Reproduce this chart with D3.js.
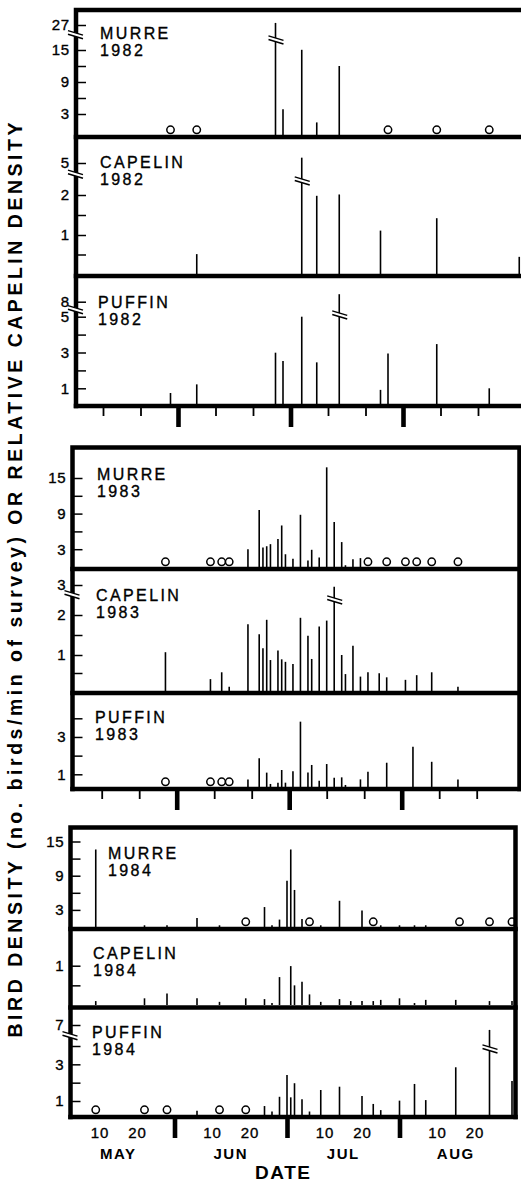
<!DOCTYPE html>
<html>
<head>
<meta charset="utf-8">
<script src="https://cdn.jsdelivr.net/npm/d3@7"></script>
<style>
  html, body { margin: 0; padding: 0; background: #fff; }
  svg { display: block; }
  text { font-family: "Liberation Sans", Arial, Helvetica, sans-serif; fill: #000; }
</style>
</head>
<body>
<svg id="chart" width="521" height="1183"></svg>
<script>
// ---- Survey dates (MM-DD) and densities; null = not shown, 0 = zero count (open circle for birds)
const dates1982   = ["05-28","06-05","06-26","06-28","07-03","07-07","07-13","07-24","07-26","08-09","08-23","08-31"];
const murre1982   = [0, 0, 28, 3.9, 15.1, 1.8, 12, null, 0, 0, 0, null];
const capelin1982 = [null, 0.51, null, null, 5.5, 1.98, 2.05, 1.11, null, 1.42, null, 0.44];
const puffin1982  = [0.7, 1.22, 2.99, 2.52, 5, 2.45, 9.5, 0.9, 2.95, 3.47, 1.0, null];

const dates1983   = ["05-27","06-09","06-12","06-14","06-19","06-22","06-23","06-24","06-25","06-27",
                     "06-28","06-29","07-01","07-03","07-05","07-06","07-08","07-10","07-12","07-14",
                     "07-15","07-17","07-19","07-21","07-24","07-26","08-01","08-03","08-04","08-08","08-15"];
const murre1983   = [0, 0, 0, 0, 3, 9.6, 3.3, 3.5, 3.85, 4.7,
                     7, 2.15, 1.4, 8.8, 1.1, 2.9, 1.6, 16.8, 7.6, 4.2,
                     0.3, 1.3, 1.5, 0, null, 0, 0, null, 0, 0, 0];
const capelin1983 = [1.07, 0.33, 0.52, 0.12, 1.77, 1.52, 1.17, 1.88, 0.86, 1.11,
                     0.88, 0.81, 0.75, 1.93, 1.48, 0.89, 1.71, 1.86, 2.94, 1.0,
                     0.47, 1.23, 0.4, 0.52, 0.49, 0.38, 0.31, null, 0.44, 0.52, 0.12];
const puffin1983  = [0, 0, 0, 0, 0.6, 1.86, null, 1.09, 0.24, 0.34,
                     1.23, 0.34, 1.16, 3.82, 1.09, 1.5, 0.5, 1.55, 0.73, 0.76,
                     0.16, null, 0.6, 1.14, null, 1.62, null, 2.48, null, 1.67, 0.6];

const dates1984   = ["05-09","05-22","05-28","06-06","06-12","06-19","06-24","06-26","06-28","06-30",
                     "07-01","07-02","07-04","07-06","07-09","07-14","07-17","07-20","07-23","07-25",
                     "07-30","08-04","08-07","08-15","08-16","08-24","08-30"];
const murre1984   = [13.6, 0.3, 0.3, 1.6, 0.3, 0, 3.5, 0.3, 1.3, 8.1,
                     13.6, 6.5, 1.4, 0, 0.3, 4.6, null, 2.9, 0, 0.3,
                     0.3, 0.3, 0.3, null, 0, 0, 0];
const capelin1984 = [0.1, 0.17, 0.29, 0.17, 0.08, 0.17, 0.15, 0.05, 0.71, null,
                     0.99, 0.5, 0.59, 0.27, 0.08, 0.15, 0.1, 0.1, 0.1, 0.13,
                     0.17, 0.05, 0.13, 0.13, null, 0.1, 0.1];
const puffin1984  = [0, 0, 0, 0.3, 0, 0, 0.64, 0.25, 1.23, 2.42,
                     1.2, 1.97, 1.09, 0.25, 1.6, 1.78, null, 1.27, 0.79, 0.35,
                     1.02, 1.93, 1.05, 2.84, null, 6.3, 2.09];

// ---- Axis labels
const minorDays   = [10, 20, 40, 50, 70, 80, 100, 110];
const monthEdges  = [30, 60, 90];
const monthNames  = ["MAY", "JUN", "JUL", "AUG"];
const yTitle      = "BIRD DENSITY (no. birds/min of survey) OR RELATIVE CAPELIN DENSITY";

// season day: every month counted as 30 days, May 0 = origin
const seasonDay = s => { const [m, d] = s.split("-").map(Number); return (m - 5) * 30 + d; };

const svg = d3.select("#chart");
const FRAME_W = 4.5;

const groups = [
  { dates: dates1982, top: 10, left: 76, right: 524, x0: 65.5, minor: true, axisLabels: false,
    panels: [
      { name: "MURRE",   year: "1982", values: murre1982,   bird: true,  bottom: 137,
        domain: [0, 3, 15, 27], range: [135, 114, 50, 25], ticks: [3, 6, 9, 12, 15, 27], labels: [3, 9, 15, 27],
        breakAbove: 20, axisBreak: 33, barBreak: 38, lx: 100, ly: 39 },
      { name: "CAPELIN", year: "1982", values: capelin1982, bird: false, bottom: 276,
        domain: [0, 1, 2, 5], range: [274, 235, 195, 163], ticks: [0.5, 1, 1.5, 2, 5], labels: [1, 2, 5],
        breakAbove: 3, axisBreak: 172.5, barBreak: 179, lx: 100, ly: 168 },
      { name: "PUFFIN",  year: "1982", values: puffin1982,  bird: true,  bottom: 406,
        domain: [0, 1, 5, 8], range: [404, 388.3, 316.7, 301.7], ticks: [1, 2, 3, 4, 5, 8], labels: [1, 3, 5, 8],
        breakAbove: 6, axisBreak: 308, barBreak: 313, lx: 98, ly: 308 }
    ] },
  { dates: dates1983, top: 447.5, left: 72.5, right: 519.5, x0: 64.2, minor: true, axisLabels: false,
    panels: [
      { name: "MURRE",   year: "1983", values: murre1983,   bird: true,  bottom: 569,
        domain: [0, 15], range: [567, 478], ticks: [3, 6, 9, 12, 15], labels: [3, 9, 15], lx: 97, ly: 480 },
      { name: "CAPELIN", year: "1983", values: capelin1983, bird: false, bottom: 693,
        domain: [0, 1, 2, 3], range: [691, 655, 615, 585], ticks: [0.5, 1, 1.5, 2, 3], labels: [1, 2, 3],
        breakAbove: 2.5, axisBreak: 593, barBreak: 598, lx: 96, ly: 601 },
      { name: "PUFFIN",  year: "1983", values: puffin1983,  bird: true,  bottom: 789,
        domain: [0, 1, 4], range: [787, 774.3, 718.3], ticks: [1, 2, 3, 4], labels: [1, 3], lx: 95, ly: 723 }
    ] },
  { dates: dates1984, top: 827.5, left: 70.5, right: 515.5, x0: 62, minor: false, axisLabels: true,
    panels: [
      { name: "MURRE",   year: "1984", values: murre1984,   bird: true,  bottom: 929,
        domain: [0, 15], range: [927, 841.5], ticks: [3, 6, 9, 12, 15], labels: [3, 9, 15], lx: 108, ly: 859 },
      { name: "CAPELIN", year: "1984", values: capelin1984, bird: false, bottom: 1007.5,
        domain: [0, 1], range: [1005, 965.7], ticks: [0.5, 1], labels: [1], lx: 93, ly: 959 },
      { name: "PUFFIN",  year: "1984", values: puffin1984,  bird: true,  bottom: 1117,
        domain: [0, 1, 4, 7], range: [1115, 1101, 1046, 1025], ticks: [1, 2, 3, 4, 7], labels: [1, 3, 7],
        breakAbove: 5, axisBreak: 1034, barBreak: 1047, lx: 92, ly: 1038 }
    ] }
];

// two slanted strokes with a white gap between them, used for scale breaks
function breakMark(sel, cx, cy, x1, x2) {
  const s = 0.3, gap = 3.6;
  const yA = x => cy + (x - cx) * s;
  sel.append("path")
    .attr("d", `M${x1},${yA(x1)}L${x2},${yA(x2)}L${x2},${yA(x2) + gap}L${x1},${yA(x1) + gap}Z`)
    .attr("fill", "#fff");
  [0, gap].forEach(o => sel.append("line")
    .attr("x1", x1).attr("y1", yA(x1) + o).attr("x2", x2).attr("y2", yA(x2) + o)
    .attr("stroke", "#000").attr("stroke-width", 1.5));
}

groups.forEach(g => {
  const G = svg.append("g");
  const x = d3.scaleLinear().domain([0, 120]).range([g.x0, g.x0 + 450]);
  const bottom = g.panels[g.panels.length - 1].bottom;

  g.panels.forEach(p => {
    const P = G.append("g");
    const y = d3.scaleLinear().domain(p.domain).range(p.range);
    const rows = g.dates.map((d, i) => ({ day: seasonDay(d), v: p.values[i] })).filter(r => r.v != null);

    // density bars
    P.selectAll("line.bar").data(rows.filter(r => r.v > 0)).join("line")
      .attr("class", "bar")
      .attr("x1", r => x(r.day)).attr("x2", r => x(r.day))
      .attr("y1", y(0)).attr("y2", r => y(r.v))
      .attr("stroke", "#000").attr("stroke-width", 1.6);

    // bars that run past the scale break
    if (p.breakAbove != null) {
      rows.filter(r => r.v > p.breakAbove)
        .forEach(r => breakMark(P, x(r.day), p.barBreak, x(r.day) - 7, x(r.day) + 8));
    }

    // zero counts for birds
    if (p.bird) {
      P.selectAll("circle").data(rows.filter(r => r.v === 0)).join("circle")
        .attr("cx", r => x(r.day)).attr("cy", y(0) - 5.2).attr("r", 3.7)
        .attr("fill", "#fff").attr("stroke", "#000").attr("stroke-width", 1.5);
    }

    // y axis: ticks point into the panel, labels sit left of the frame
    const ax = d3.axisLeft(y).tickValues(p.ticks)
      .tickSizeInner(-9).tickSizeOuter(0).tickPadding(7)
      .tickFormat(v => p.labels.includes(v) ? v : "");
    const A = P.append("g").attr("transform", `translate(${g.left + 1},0)`).call(ax);
    A.select(".domain").remove();
    A.selectAll(".tick line").attr("stroke", "#000").attr("stroke-width", 1.5);
    A.selectAll(".tick text").attr("font-size", 15).attr("letter-spacing", 0.8)
      .attr("font-family", "'Liberation Sans', Arial, sans-serif").attr("fill", "#000")
      .attr("stroke", "#000").attr("stroke-width", 0.35);

    // panel title
    const T = P.append("text").attr("x", p.lx).attr("y", p.ly)
      .attr("font-size", 16).attr("letter-spacing", 2.4)
      .attr("stroke", "#000").attr("stroke-width", 0.35);
    T.append("tspan").attr("x", p.lx).text(p.name);
    T.append("tspan").attr("x", p.lx).attr("dy", 16.5).text(p.year);
  });

  // frame and panel separators
  const F = G.append("g").attr("stroke", "#000").attr("stroke-width", FRAME_W).attr("fill", "none");
  F.append("path").attr("d",
    `M${g.left},${bottom}L${g.left},${g.top}L${g.right},${g.top}L${g.right},${bottom}`)
    .attr("stroke-linejoin", "miter").attr("stroke-linecap", "square");
  g.panels.forEach(p => F.append("line")
    .attr("x1", g.left - FRAME_W / 2).attr("x2", g.right + FRAME_W / 2)
    .attr("y1", p.bottom).attr("y2", p.bottom));

  // axis breaks on the frame
  g.panels.filter(p => p.axisBreak).forEach(p => breakMark(G, g.left, p.axisBreak, g.left - 8, g.left + 7));

  // date axis under the group
  if (g.minor) {
    const mx = G.append("g").attr("transform", `translate(0,${bottom})`)
      .call(d3.axisBottom(x).tickValues(minorDays).tickSize(10).tickFormat(""));
    mx.select(".domain").remove();
    mx.selectAll(".tick line").attr("stroke", "#000").attr("stroke-width", 1.8);
  }
  const bx = G.append("g").attr("transform", `translate(0,${bottom})`)
    .call(d3.axisBottom(x).tickValues(monthEdges).tickSize(21).tickFormat(""));
  bx.select(".domain").remove();
  bx.selectAll(".tick line").attr("stroke", "#000").attr("stroke-width", 4.6);

  if (g.axisLabels) {
    const lx = G.append("g").attr("transform", `translate(0,${bottom})`)
      .call(d3.axisBottom(x).tickValues(minorDays).tickSize(0).tickPadding(10).tickFormat(d => d % 30));
    lx.select(".domain").remove();
    lx.selectAll(".tick text").attr("font-size", 15).attr("letter-spacing", 1)
      .attr("font-family", "'Liberation Sans', Arial, sans-serif").attr("fill", "#000")
      .attr("stroke", "#000").attr("stroke-width", 0.35);

    G.selectAll("text.month").data(monthNames).join("text")
      .attr("class", "month")
      .attr("x", (m, i) => x(15 + 30 * i)).attr("y", bottom + 42)
      .attr("text-anchor", "middle").attr("font-size", 15).attr("font-weight", "bold")
      .attr("letter-spacing", 1.5).text(m => m);

    G.append("text").attr("x", x(59)).attr("y", bottom + 62)
      .attr("text-anchor", "middle").attr("font-size", 19).attr("font-weight", "bold")
      .attr("letter-spacing", 1.5).text("DATE");
  }
});

// shared y title
svg.append("text")
  .attr("transform", "translate(22,580) rotate(-90)")
  .attr("text-anchor", "middle")
  .attr("font-size", 19.5).attr("font-weight", "bold")
  .attr("textLength", 915).attr("lengthAdjust", "spacing")
  .text(yTitle);
</script>
</body>
</html>
